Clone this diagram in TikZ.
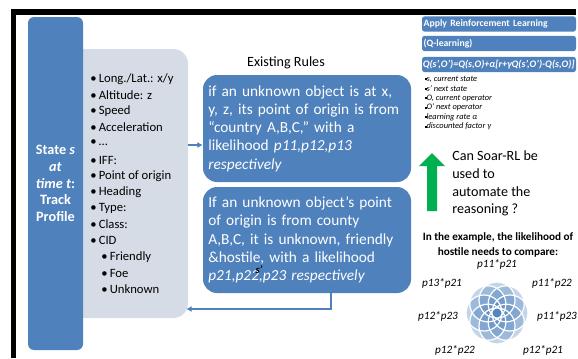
\documentclass[tikz,border=0pt]{standalone}
\usepackage{fontspec}
\setmainfont{Carlito}
\usetikzlibrary{arrows.meta}
\definecolor{acc}{HTML}{4F81BD}
\definecolor{pale}{HTML}{D6DCE5}
\definecolor{grn}{HTML}{00B050}
\begin{document}
\begin{tikzpicture}[x=0.75pt,y=-0.75pt,
  statebox/.style={fill=acc, rounded corners=4.5pt, minimum width=41.25pt, minimum height=249.75pt,
    text=white, align=center, font=\bfseries\fontsize{10.7}{12.5}\selectfont, inner sep=0pt},
  attrbox/.style={fill=pale, rounded corners=11pt, minimum width=88.5pt, minimum height=201.75pt, inner sep=0pt},
  itemtext/.style={anchor=west, inner sep=0pt, font=\fontsize{9.5}{11}\selectfont},
  rulebox/.style={fill=acc, rounded corners=10.5pt, minimum width=156pt, text width=148pt, inner xsep=4pt,
    text=white, align=left, font=\fontsize{11.5}{13.7}\selectfont},
  topbox/.style={fill=acc, rounded corners=2pt, minimum height=11.5pt, text width=113pt, inner xsep=1.25pt, inner ysep=0pt,
    text=white, align=left, font=\bfseries\fontsize{7.3}{8}\selectfont},
  smalltext/.style={anchor=west, inner sep=0pt, font=\itshape\fontsize{6.3}{7}\selectfont},
  plabel/.style={inner sep=0pt, font=\itshape\fontsize{8.4}{10}\selectfont},
  arr/.style={draw=acc, line width=1.4pt, -{Latex[length=4pt,width=4.5pt]}}
]
\useasboundingbox (0,0) rectangle (578,358);
% frame
\fill[black] (11,9) rectangle (576,15);
\fill[black] (11,9) rectangle (16,358);

% attribute panel and state box
\node[attrbox] (attrs) at (129,183.5) {};
\node[statebox] (state) at (55.5,183.5) {State \textit{s}\\ \textit{at}\\ \textit{time t}:\\ Track\\ Profile};

\foreach \t/\y [count=\i] in {{Long./Lat.: x/y}/79, {Altitude: z}/95, {Speed}/111, {Acceleration}/127,
  {…}/143, {IFF:}/160, {Point of origin}/176, {Heading}/192, {Type:}/208, {Class:}/224, {CID}/240}
  \node[itemtext] (item\i) at (90,\y) {\makebox[6.4pt][l]{•}\t};
\foreach \t/\y [count=\i] in {{Friendly}/257, {Foe}/273, {Unknown}/289}
  \node[itemtext] (sub\i) at (101,\y) {\makebox[6.4pt][l]{•}\t};

% rules
\node[font=\fontsize{10.6}{12}\selectfont, inner sep=0pt] (title) at (286,63) {Existing Rules};
\node[rulebox, minimum height=80.25pt] (rule1) at (307,128.5)
  {if an unknown object is at x,\\ y, z, its point of origin is from\\ “country A,B,C,” with a\\ likelihood \textit{p11,p12,p13}\\ \textit{respectively}};
\node[rulebox, minimum height=79.5pt] (rule2) at (307,240)
  {If an unknown object’s point\\ of origin is from county\\ A,B,C, it is unknown, friendly\\ \&hostile, with a likelihood\\ \textit{p21,p22,p23 respectively}};
\node[font=\bfseries\itshape\fontsize{8}{8}\selectfont, inner sep=0pt] (smark) at (259,270) {s'};

\coordinate (y145) at (0,145);
\coordinate (bend) at (331,309);
\draw[arr] (attrs.east |- y145) -- (rule1.west |- y145);
\draw[arr] (rule2.south -| bend) -- (bend) -- ([xshift=-1.5pt]attrs.east |- bend);

% top right panel
\node[topbox] (apply) at (499,24) {Apply Reinforcement Learning};
\node[topbox] (qlearn) at (499,43.5) {(Q-learning)};
\node[topbox, font=\bfseries\itshape\fontsize{7.5}{8}\selectfont, inner xsep=0.6pt, text width=114.3pt] (formula) at (499,64.5)
  {Q(s',O')=Q(s,O)+α[r+γQ(s',O')-Q(s,O)]};
\foreach \t/\y [count=\i] in {{s, current state}/79, {s' next state}/88.5, {O, current operator}/98,
  {O' next operator}/107.5, {learning rate α}/117, {discounted factor γ}/126.5}
  \node[smalltext] (note\i) at (424.5,\y) {\raisebox{0.9pt}{\rule{1.3pt}{1.3pt}}\t};

% green arrow
\fill[grn] (427,211) -- (427,166) -- (419,166) -- (432,153) -- (445,166) -- (437,166) -- (437,211) -- cycle;
\node[anchor=west, align=left, inner sep=0pt, font=\fontsize{10.6}{13.3}\selectfont] (question) at (452,183.5)
  {Can Soar-RL be\\ used to\\ automate the\\ reasoning ?};

% example
\node[align=center, inner sep=0pt, font=\bfseries\fontsize{8.4}{11.2}\selectfont] (example) at (498,244.5)
  {In the example, the likelihood of\\ hostile needs to compare:};
\coordinate (flower) at (497,313);
\foreach \a in {0,45,...,315}
  \fill[acc, fill opacity=0.33] (flower) ++(\a:9.75pt) circle (13.5pt);
\foreach \a in {0,45,...,315}
  \draw[white, line width=0.9pt] (flower) ++(\a:9.75pt) circle (13.5pt);
\node[plabel] (l1) at (497,264) {p11*p21};
\node[plabel] (l2) at (442,283) {p13*p21};
\node[plabel] (l3) at (552,283) {p11*p22};
\node[plabel] (l4) at (438,316) {p12*p23};
\node[plabel] (l5) at (557,316) {p11*p23};
\node[plabel] (l6) at (455,350) {p12*p22};
\node[plabel] (l7) at (543,350) {p12*p21};
\end{tikzpicture}
\end{document}
